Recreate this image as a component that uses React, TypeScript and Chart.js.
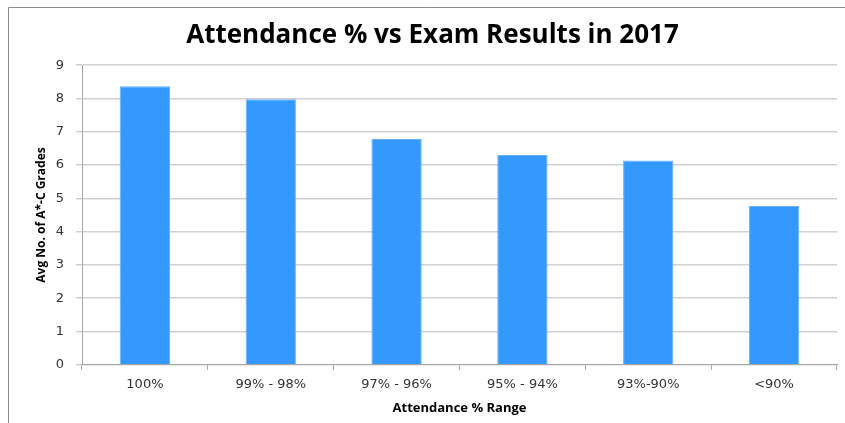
import React, { useEffect, useRef } from "react";
import { Chart, registerables } from "chart.js";

Chart.register(...registerables);

const categories = ["100%", "99% - 98%", "97% - 96%", "95% - 94%", "93%-90%", "<90%"];
const avgGrades = [8.37, 7.98, 6.78, 6.3, 6.14, 4.77];
const yTicks = [0, 1, 2, 3, 4, 5, 6, 7, 8, 9];

const framePlugin = {
  id: "frame",
  beforeDraw(chart: any) {
    const ctx = chart.ctx;
    ctx.save();
    ctx.fillStyle = "#ffffff";
    ctx.fillRect(0, 0, chart.width, chart.height);
    ctx.strokeStyle = "#8a8a8a";
    ctx.lineWidth = 1;
    ctx.beginPath();
    ctx.moveTo(8.5, chart.height);
    ctx.lineTo(8.5, 7.5);
    ctx.lineTo(chart.width, 7.5);
    ctx.stroke();
    ctx.restore();
  },
};

export default function App() {
  const ref = useRef<HTMLCanvasElement>(null);
  useEffect(() => {
    const chart = new Chart(ref.current!, {
      type: "bar",
      data: {
        labels: categories,
        datasets: [
          {
            label: "Avg No. of A*-C Grades",
            data: avgGrades,
            backgroundColor: "#3399ff",
            borderColor: "#66b2ff",
            borderWidth: 1,
            barPercentage: 0.4,
            categoryPercentage: 1,
          },
        ],
      },
      options: {
        animation: false,
        responsive: false,
        devicePixelRatio: 1,
        layout: { padding: { left: 28, right: 8, top: 0, bottom: 7 } },
        plugins: {
          legend: { display: false },
          tooltip: { enabled: false },
          title: {
            display: true,
            text: "Attendance % vs Exam Results in 2017",
            color: "#000000",
            font: { family: "'Open Sans'", size: 26, weight: "bold" },
            padding: { top: 20, bottom: 14 },
          },
        },
        scales: {
          x: {
            grid: {
              offset: true,
              drawOnChartArea: false,
              drawTicks: true,
              tickLength: 5,
              color: "#a6a6a6",
            },
            border: { color: "#a6a6a6", width: 1 },
            ticks: {
              color: "#333333",
              font: { family: "'DejaVu Sans'", size: 13 },
              padding: 7,
              maxRotation: 0,
            },
            title: {
              display: true,
              text: "Attendance % Range",
              color: "#000000",
              font: { family: "'Open Sans'", size: 13, weight: "bold" },
              padding: { top: 1, bottom: 0 },
            },
          },
          y: {
            min: 0,
            max: 9,
            afterBuildTicks(scale: any) {
              scale.ticks = yTicks.map((v) => ({ value: v }));
            },
            afterFit(scale: any) {
              scale.width = 54;
            },
            grid: {
              color: "#d0d0d0",
              lineWidth: 1.5,
              tickLength: 6,
              drawTicks: true,
            },
            border: { color: "#a6a6a6", width: 1 },
            ticks: {
              color: "#333333",
              font: { family: "'DejaVu Sans'", size: 13 },
              padding: 12,
            },
            title: {
              display: true,
              text: "Avg No. of A*-C Grades",
              color: "#000000",
              font: { family: "'Open Sans'", size: 12, weight: "bold" },
              padding: { top: 6, bottom: 0 },
            },
          },
        },
      },
      plugins: [framePlugin],
    });
    return () => chart.destroy();
  }, []);
  return (
    <div style={{ position: "fixed", left: 0, top: 0, width: 845, height: 423 }}>
      <canvas ref={ref} width={845} height={423} style={{ display: "block" }} />
    </div>
  );
}
